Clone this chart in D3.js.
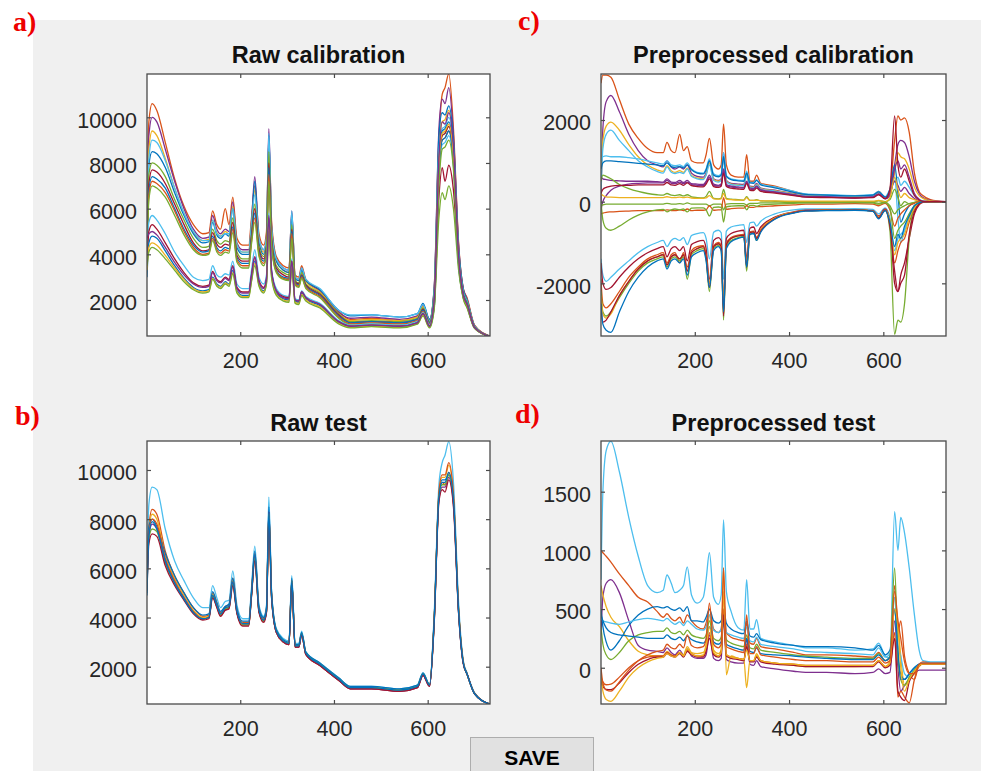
<!DOCTYPE html>
<html>
<head>
<meta charset="utf-8">
<script src="https://cdnjs.cloudflare.com/ajax/libs/d3/7.8.5/d3.min.js"></script>
<style>
  body { margin: 0; background: #fff; }
  svg { display: block; }
</style>
</head>
<body>
<div id="chart"></div>
<script>
// wavelength index of every sampled point (shared by all four panels)
var idx = [1,5,12,22,40, 60,80,100,120,133, 141,150,158,168,176, 184,193,205,218,224, 231,240,250,256,261, 267,277,292,304,310, 317,325,331,340,370, 410,435,480,540,578, 590,604,614,624,631, 637,645,655,666,676, 684,700,733];

var palette = ["#0072BD","#D95319","#EDB120","#7E2F8E","#77AC30","#4DBEEE","#A2142F"];
var xTicks = [200, 400, 600];
var rawYTicks = [2000, 4000, 6000, 8000, 10000];
var preCalYTicks = [-2000, 0, 2000];
var preTestYTicks = [0, 500, 1000, 1500];

// a) raw calibration spectra
var rawCal = [
  [6500,9800,10600,10300,8900, 7300,6100,5300,4900,4950, 5900,5300,5100,6000,5300, 6500,4700,4400,4400,5600, 7000,4900,4400,5000,9000, 5400,3900,3500,3400,5800, 3100,3000,3500,2900,2450, 1500,1150,1200,1100,1300, 1750,1100,2500,9000,11000, 11300,11900,9500,4500,2500, 2100,900,420],
  [5800,9200,10000,9800,8600, 7200,6000,5100,4700,4750, 5700,5100,4900,5100,5000, 6300,4500,4200,4200,5400, 7400,4700,4200,4800,9500, 5200,3800,3400,3300,5900, 3000,2900,3400,2850,2400, 1450,1200,1250,1150,1300, 1800,1150,2600,9500,10800, 10600,11300,9200,4400,2500, 2050,880,420],
  [5200,8600,9400,9200,8200, 6900,5800,4950,4600,4650, 5500,4950,4800,5000,4900, 6100,4400,4100,4100,5300, 6800,4600,4100,4700,8800, 5000,3700,3300,3200,5600, 2950,2850,3300,2800,2350, 1400,1100,1150,1100,1250, 1700,1100,2400,8800,9800, 9900,10300,8800,4200,2400, 2000,850,410],
  [4800,7900,8500,8400,7800, 6700,5700,4900,4500,4550, 5400,4850,4700,4900,4800, 6000,4300,4000,4000,5200, 7200,4500,4000,4600,9200, 5000,3700,3300,3200,5700, 2950,2850,3300,2850,2450, 1550,1300,1350,1250,1400, 1850,1150,2500,9200,10200, 10100,10500,9000,4300,2450, 2000,860,410],
  [4300,8200,9000,8900,8100, 6900,5800,5000,4600,4600, 5500,4900,4800,4900,4900, 6000,4400,4100,4100,5300, 6600,4700,4200,4700,9300, 5100,3800,3400,3300,5900, 3000,2900,3400,2900,2500, 1550,1350,1350,1250,1400, 1800,1100,2300,8500,9500, 9600,10000,8600,4000,2350, 1950,840,400],
  [4500,7500,8000,7900,7400, 6400,5500,4700,4300,4350, 5100,4600,4450,4600,4550, 5600,4100,3800,3800,4900, 6200,4300,3900,4400,8500, 4800,3500,3200,3100,5300, 2850,2750,3200,2700,2300, 1400,1050,1100,1050,1200, 1650,1050,2200,8200,9200, 9300,9600,8300,3900,2300, 1900,820,400],
  [4000,7100,7700,7600,7100, 6200,5300,4500,4150,4200, 4950,4450,4300,4450,4400, 5400,3950,3700,3700,4800, 6000,4200,3800,4300,8000, 4600,3400,3100,3000,5100, 2800,2700,3100,2650,2250, 1350,1000,1050,1000,1150, 1600,1000,1900,6500,7800, 7200,7900,6800,3600,2200, 1800,800,400],
  [3900,6800,7400,7300,6900, 6000,5100,4400,4100,4150, 4800,4300,4150,4300,4250, 5200,3850,3600,3600,4700, 5800,4100,3700,4200,7800, 4500,3300,3000,2950,5000, 2750,2650,3050,2600,2200, 1300,1000,1050,1000,1150, 1550,1000,2000,8000,9400, 9500,9800,8400,3800,2250, 1850,800,400],
  [3700,6600,7200,7100,6700, 5900,5000,4300,4000,4050, 4700,4200,4050,4200,4150, 5100,3750,3500,3500,4550, 5600,4000,3600,4100,7500, 4400,3250,2950,2900,4900, 2700,2600,3000,2550,2150, 1250,950,1000,950,1100, 1500,950,1900,7800,9000, 9100,9400,8100,3700,2200, 1800,790,400],
  [3600,6400,7000,6900,6500, 5700,4850,4200,3950,4000, 4600,4100,3950,4100,4050, 4950,3650,3400,3400,4450, 5400,3900,3500,4000,7200, 4300,3200,2900,2850,4700, 2650,2550,2950,2500,2100, 1200,900,950,900,1050, 1450,900,1700,5600,6700, 6400,7000,6000,3300,2100, 1750,780,400],
  [4200,5400,5700,5500,4900, 4100,3500,3000,2850,2900, 3500,3100,3000,3150,3100, 3700,2700,2500,2500,3300, 4200,3000,2700,3100,5800, 3300,2500,2200,2150,3800, 2050,2000,2400,2150,1850, 1100,900,950,900,1050, 1450,900,1900,7500,8800, 8900,9200,7900,3600,2150, 1750,780,400],
  [3400,5000,5300,5100,4500, 3800,3200,2750,2600,2650, 3250,2900,2800,3000,2900, 3500,2550,2350,2350,3100, 3900,2850,2550,2950,5600, 3200,2400,2150,2100,3700, 2000,1950,2350,2100,1800, 1050,850,900,850,1000, 1400,850,1800,7800,9200, 9300,9600,8200,3700,2150, 1750,780,400],
  [3000,4500,4800,4700,4150, 3500,2950,2550,2400,2450, 3000,2700,2600,2800,2700, 3300,2400,2200,2200,2900, 3700,2700,2400,2800,5400, 3100,2300,2050,2000,3600, 1950,1900,2300,2050,1750, 1000,820,870,820,980, 1350,820,1700,7600,9000, 9100,9400,8000,3600,2100, 1700,770,400],
  [3300,4300,4500,4400,3950, 3400,2900,2500,2350,2400, 2950,2650,2550,2750,2650, 3200,2350,2150,2150,2850, 3600,2650,2350,2750,5200, 3000,2250,2000,1950,3500, 1900,1850,2250,2000,1700, 980,800,850,800,960, 1320,800,1800,7900,9300, 9400,9700,8300,3700,2100, 1700,770,400],
  [3500,4100,4300,4200,3800, 3300,2800,2450,2300,2350, 2900,2600,2500,2700,2600, 3150,2300,2100,2100,2800, 3500,2600,2300,2700,5000, 2950,2200,1950,1900,3400, 1850,1800,2200,1950,1650, 950,780,830,780,940, 1300,780,1600,7000,8600, 8700,9000,7700,3500,2050, 1650,760,400],
  [4700,4900,5000,4850,4300, 3650,3100,2700,2550,2600, 3200,2850,2750,2950,2850, 3450,2500,2300,2300,3050, 3850,2800,2500,2900,5700, 3250,2400,2100,2050,3700, 2000,1950,2350,2100,1800, 1050,850,900,850,1000, 1400,850,2000,8200,9800, 9700,10200,8700,3900,2200, 1800,790,400]
];
var rawCalColors = [1,3,2,0,5,4,6,0,1,4,5,6,0,2,4,3];

// b) raw test spectra
var rawTest = [
  [5600,8600,9300,9200,7600, 6300,5500,4800,4400,4400, 5300,4800,4400,4650,4700, 5900,4500,3950,3950,5200, 6900,4500,4050,4500,8900, 5000,3550,3150,3050,5700, 2950,2950,3450,2600,2150, 1550,1200,1200,1100,1250, 1750,1250,4200,9400,10300, 10600,11150,9500,4600,2250, 1750,950,480],
  [5300,7700,8400,8200,6700, 5700,5000,4400,4050,4100, 5000,4600,4200,4450,4500, 5600,4300,3800,3800,5000, 6600,4350,3950,4350,8300, 4900,3450,3050,2950,5500, 2850,2850,3350,2550,2100, 1500,1150,1150,1050,1200, 1700,1250,4000,8900,9500, 9400,9900,8800,4300,2200, 1700,920,480],
  [5500,7500,8200,8000,6500, 5600,4900,4300,4000,4050, 4950,4550,4150,4400,4450, 5500,4250,3750,3750,4950, 6500,4300,3900,4300,8200, 4850,3400,3000,2900,5450, 2800,2800,3300,2500,2050, 1450,1120,1120,1020,1180, 1680,1230,3900,9000,9700, 9700,10200,8900,4300,2150, 1700,910,480],
  [5000,7700,8000,7700,6600, 5700,5000,4400,4100,4150, 5050,4600,4250,4450,4550, 5600,4350,3850,3850,5050, 6700,4400,4000,4400,8500, 4950,3500,3100,3000,5600, 2900,2900,3400,2600,2150, 1550,1200,1200,1100,1250, 1750,1280,4000,9000,9600, 9600,9800,8700,4200,2150, 1700,910,480],
  [5400,7400,8000,7800,6400, 5500,4800,4250,3950,4000, 4900,4500,4100,4350,4400, 5450,4200,3700,3700,4900, 6400,4250,3850,4250,8100, 4800,3400,3000,2900,5400, 2800,2800,3300,2500,2050, 1450,1100,1100,1000,1150, 1650,1200,3950,9100,9800, 9800,10300,9000,4350,2150, 1700,910,480],
  [5300,7300,7800,7600,6300, 5400,4800,4200,3950,4000, 4850,4450,4100,4300,4400, 5400,4200,3700,3700,4900, 6500,4250,3850,4250,8300, 4800,3400,3000,2900,5500, 2800,2800,3300,2500,2050, 1450,1100,1100,1000,1150, 1650,1200,3850,8800,9300, 9300,9700,8600,4200,2150, 1700,900,480],
  [5200,7200,7600,7500,6200, 5400,4750,4200,3950,4000, 4850,4450,4100,4350,4400, 5350,4200,3700,3700,4900, 6400,4250,3850,4250,8200, 4800,3450,3050,2950,5500, 2850,2850,3350,2550,2100, 1500,1150,1150,1050,1200, 1700,1250,3900,8900,9400, 9400,9800,8700,4250,2150, 1700,900,480],
  [5100,7000,7400,7300,6100, 5300,4700,4150,3900,3950, 4800,4400,4050,4300,4350, 5300,4150,3650,3650,4850, 6300,4200,3800,4200,8000, 4750,3400,3000,2900,5400, 2800,2800,3300,2500,2050, 1450,1100,1100,1000,1150, 1650,1200,3800,8700,9200, 9100,9600,8500,4150,2100, 1700,900,480],
  [4900,7300,7900,7600,6300, 5400,4750,4200,3950,4000, 4900,4500,4150,4400,4450, 5450,4250,3750,3750,4950, 6550,4300,3900,4300,8300, 4850,3450,3050,2950,5500, 2850,2850,3350,2550,2100, 1500,1150,1150,1050,1200, 1700,1250,3900,8900,9500, 9500,9900,8800,4250,2150, 1700,900,480]
];
var rawTestColors = [5,1,2,0,1,3,4,6,0];

// c) preprocessed calibration spectra
var preCal = [
  [2900,3100,3100,3050,2500, 1900,1550,1300,1200,1200, 1450,1250,1200,1650,1250, 1350,1000,950,950,1150, 1550,900,800,900,1900, 900,650,600,600,1150, 500,500,650,450,380, 250,180,150,120,150, 250,100,300,1500,2100, 2000,2050,1700,700,250, 150,50,0],
  [0,1800,2450,2600,2200, 1650,1250,1000,900,850, 1000,850,800,850,800, 900,700,620,600,700, 1000,560,520,560,1200, 520,450,430,420,700, 380,370,450,330,280, 200,160,150,130,150, 230,100,250,900,1400, 1500,1450,1100,500,200, 100,30,0],
  [400,1500,1850,1950,1750, 1400,1100,900,780,740, 880,760,720,760,720, 820,640,580,560,660, 950,540,500,540,1100, 500,430,410,400,660, 360,350,420,320,270, 190,150,140,120,140, 220,90,200,700,1200, 1100,1050,800,350,150, 80,20,0],
  [300,1300,1650,1750,1500, 1250,1000,850,740,700, 850,720,690,720,690, 800,620,560,540,650, 900,520,480,520,1050, 480,420,400,390,640, 350,340,410,310,260, 180,140,130,110,130, 200,80,150,600,-400, -1000,-700,-300,-100,-30, 0,0,0],
  [1000,1100,1120,1100,1100, 1080,1050,1000,950,920, 1000,900,880,900,860, 950,800,720,700,800, 1050,680,640,680,1200, 640,560,530,520,750, 480,470,540,430,360, 250,190,170,150,170, 250,120,300,500,600, 400,500,350,150,60, 20,0,0],
  [800,950,1000,1000,980, 960,940,920,900,880, 950,860,840,860,830, 900,780,700,680,780, 1000,650,610,650,1100, 620,540,510,500,700, 460,450,520,410,340, 230,180,160,140,160, 240,110,300,900,200, -500,-300,-100,-30,0, 0,0,0],
  [600,560,540,520,510, 500,500,500,490,480, 560,480,470,520,470, 520,440,430,420,500, 650,430,400,430,800, 420,380,360,350,500, 330,320,380,290,240, 170,130,120,100,120, 190,80,200,500,400, 250,350,200,80,20, 0,0,0],
  [-200,0,150,280,380, 430,450,460,460,460, 520,450,440,480,440, 480,420,400,390,470, 600,400,380,410,750, 400,360,340,330,480, 310,300,360,280,230, 160,120,110,90,110, 180,70,150,800,1000, 800,900,600,200,60, 0,0,0],
  [500,650,620,560,420, 320,250,200,170,160, 200,160,150,170,140, 170,120,100,90,130, 250,80,70,90,300, 80,60,50,40,120, 30,30,50,20,10, 0,0,0,0,0, 20,0,50,300,100, -100,0,-50,-20,0, 0,0,0],
  [200,150,120,110,100, 100,100,100,100,100, 120,100,100,110,100, 110,90,80,80,90, 150,70,60,70,200, 60,50,40,40,100, 30,30,40,20,20, 10,10,10,10,10, 30,0,100,600,300, 100,200,100,50,10, 0,0,0],
  [-100,-80,-60,-60,-60, -60,-60,-60,-60,-60, -40,-60,-60,-50,-60, -30,-60,-60,-60,-60, -100,-60,-60,-60,-200, -60,-50,-50,-50,-80, -40,-40,-40,-30,-30, -20,-20,-20,-20,-20, -40,-10,-100,-300,-200, -150,-100,-50,-20,0, 0,0,0],
  [-300,-280,-260,-250,-240, -230,-220,-220,-220,-220, -200,-220,-220,-200,-220, -180,-220,-210,-210,-200, -100,-210,-200,-200,100, -190,-170,-160,-160,-100, -140,-140,-120,-120,-100, -80,-60,-60,-50,-60, -100,-40,-200,-600,-400, -300,-200,-100,-40,0, 0,0,0],
  [0,-450,-650,-700,-600, -450,-330,-250,-200,-190, -250,-200,-180,-200,-180, -250,-160,-150,-150,-200, -350,-140,-130,-140,-500, -130,-110,-100,-100,-200, -90,-90,-110,-80,-60, -40,-30,-30,-20,-30, -60,-20,-150,-900,-700, -600,-500,-300,-100,-20, 0,0,0],
  [-1400,-1800,-1950,-1850,-1650, -1450,-1250,-1100,-1000,-950, -1100,-950,-900,-950,-880, -1050,-830,-780,-760,-900, -1400,-750,-700,-760,-1900, -720,-620,-580,-560,-1000, -520,-500,-600,-480,-300, -200,-180,-180,-170,-190, -300,-150,-400,-1200,-900, -800,-700,-400,-150,-50, -10,0,0],
  [-1500,-2000,-2150,-2100,-1850, -1600,-1400,-1250,-1150,-1100, -1350,-1150,-1100,-1200,-1100, -1450,-1050,-980,-950,-1150, -1900,-950,-880,-950,-2600, -900,-780,-720,-700,-1400, -650,-620,-780,-620,-380, -250,-210,-200,-200,-220, -350,-180,-500,-2000,-2200, -1800,-1500,-900,-300,-80, -20,0,0],
  [-1900,-2500,-2600,-2500,-2200, -1850,-1600,-1400,-1300,-1250, -1500,-1300,-1250,-1500,-1250, -1600,-1200,-1100,-1080,-1300, -2000,-1080,-1000,-1080,-2500, -1020,-880,-820,-800,-1500, -740,-720,-880,-680,-400, -260,-220,-210,-200,-230, -380,-200,-500,-1500,-1200, -1000,-900,-500,-200,-50, -10,0,0],
  [-2200,-2700,-2800,-2700,-2350, -2000,-1700,-1500,-1400,-1350, -1600,-1400,-1350,-1450,-1350, -1900,-1300,-1200,-1150,-1400, -2200,-1150,-1070,-1150,-2900, -1100,-950,-880,-850,-1700, -800,-770,-950,-720,-420, -270,-220,-210,-200,-230, -400,-210,-700,-3250,-2900, -2950,-2500,-900,-100,-30, 0,0,0],
  [-2300,-2750,-2850,-2750,-2300, -1950,-1650,-1450,-1350,-1300, -1550,-1350,-1300,-1400,-1300, -1700,-1250,-1150,-1100,-1350, -2000,-1100,-1030,-1100,-2500, -1050,-900,-840,-820,-1500, -760,-740,-900,-700,-400, -260,-220,-210,-200,-230, -380,-200,-450,-1300,-1000, -900,-800,-400,-150,-40, -10,0,0],
  [-2600,-2950,-2900,-2700,-2300, -1950,-1650,-1450,-1350,-1300, -1550,-1350,-1300,-1400,-1300, -1700,-1250,-1150,-1100,-1350, -2100,-1100,-1030,-1100,-2800, -1050,-900,-840,-820,-1600, -760,-740,-900,-720,-420, -270,-220,-210,-200,-230, -400,-200,-600,-1700,-2200, -2000,-1800,-800,-250,-60, -10,0,0],
  [-2500,-3000,-3150,-3200,-2700, -2200,-1850,-1600,-1450,-1400, -1650,-1450,-1400,-1500,-1400, -1800,-1350,-1250,-1200,-1450, -2100,-1200,-1100,-1200,-2700, -1150,-980,-900,-870,-1600, -800,-780,-950,-750,-430, -280,-230,-220,-210,-240, -420,-220,-500,-1100,-800, -900,-600,-350,-100,-30, 0,0,0],
  [200,300,350,380,400, 400,410,410,410,410, 470,410,400,440,400, 460,390,370,360,430, 560,370,350,380,700, 370,330,310,300,450, 280,270,330,250,210, 150,110,100,90,100, 170,70,300,2100,900, 600,800,500,150,40, 10,0,0]
];
var preCalColors = [1,3,2,5,5,0,3,3,4,2,4,1,4,5,6,1,4,2,6,0,6];

// d) preprocessed test spectra
var preTest = [
  [750,1500,1850,1930,1670, 1280,950,700,640,660, 790,720,640,660,700, 860,620,550,600,750, 980,600,540,620,1260, 650,480,340,320,750, 330,330,410,250,220, 190,170,170,150,160, 210,100,80,1330,1000, 1280,1150,850,450,150, 60,50,50],
  [1000,980,950,900,800, 700,600,560,480,430, 460,420,400,430,380, 450,400,350,330,380, 500,330,300,330,600, 300,260,240,230,380, 210,200,250,180,160, 130,110,110,100,90, 130,60,80,700,300, 400,100,-50,-100,30, 50,40,40],
  [300,600,720,750,640, 400,190,150,140,130, 170,130,110,150,110, 160,100,80,80,110, 280,80,60,80,450, 70,50,40,40,250, 30,20,60,10,-10, -30,-40,-40,-50,-40, -10,-50,-40,400,0, -200,-150,-100,-50,-20, -20,-20,-20],
  [700,620,520,430,350, 230,140,110,100,100, 140,110,100,130,110, 180,130,120,130,200, 450,150,120,150,850, -60,100,80,70,-170, 60,60,120,60,40, 20,10,10,10,20, 60,10,50,600,380, 100,-150,-100,-50,10, 30,30,30],
  [500,350,220,150,230, 360,450,500,520,510, 520,500,490,510,480, 520,400,400,390,430, 500,400,380,400,500, 380,330,300,290,400, 270,260,290,240,210, 190,180,180,170,150, 190,110,150,500,100, -50,-100,-50,0,30, 40,40,40],
  [420,400,390,380,370, 390,410,420,410,400, 420,390,370,390,360, 400,370,330,320,350, 450,320,300,330,500, 300,280,260,250,350, 230,220,260,200,180, 160,140,130,120,110, 170,90,120,600,200, 100,-50,-80,0,30, 40,40,40],
  [350,200,110,70,130, 230,280,300,310,310, 340,300,290,310,280, 320,280,260,250,280, 400,250,230,260,450, 240,210,190,180,280, 170,160,200,150,130, 110,100,90,80,80, 120,60,100,850,100, -100,-150,-80,-20,20, 30,30,30],
  [450,400,340,300,280, 270,260,250,250,250, 280,250,240,260,230, 270,240,220,210,240, 350,220,200,220,400, 200,180,160,150,250, 140,130,170,120,110, 100,90,80,70,70, 110,60,90,500,150, -100,-100,-50,0,30, 30,30,30],
  [-80,-120,-145,-140,-80, 0,60,90,100,100, 130,110,100,130,100, 150,120,100,100,150, 300,120,100,130,500, 110,90,80,70,200, 60,60,100,60,40, 30,20,20,20,20, 60,10,30,300,-250, -200,-250,-300,-100,20, 30,30,30],
  [-100,-160,-185,-187,-130, -40,30,70,90,90, 120,100,90,120,90, 140,110,90,90,140, 250,110,90,120,450, 100,80,70,60,180, 50,50,90,50,30, 20,10,10,10,10, 50,0,20,250,-200, -250,-280,-120,-40,20, 30,30,30],
  [-50,-200,-270,-286,-200, -80,0,50,80,90, 120,100,90,130,100, 160,120,100,110,180, 350,130,100,130,650, 110,90,80,70,150, 60,60,110,60,40, 30,20,20,20,20, 60,10,40,500,350, 0,-200,-100,-30,20, 30,30,30],
  [0,-130,-190,-200,-120, -20,60,110,140,150, 200,170,160,200,170, 280,190,170,180,250, 550,200,170,200,850, 180,160,140,130,450, 120,120,180,110,90, 70,60,60,50,50, 90,40,60,650,400, 250,50,-50,-50,30, 40,40,40]
];
var preTestColors = [5,1,3,2,0,5,4,0,1,6,2,1];

var svg = d3.select("#chart")
    .append("svg")
      .attr("width", 981)
      .attr("height", 771);

// figure background
svg.append("rect")
    .attr("x", 0).attr("y", 0)
    .attr("width", 981).attr("height", 771)
    .attr("fill", "#fff");
svg.append("rect")
    .attr("x", 33).attr("y", 20)
    .attr("width", 948).attr("height", 751)
    .attr("fill", "#f0f0f0");

var tickFont = "'Liberation Sans', Arial, Helvetica, sans-serif";
var axisColor = "#4a4a4a";
var plainNum = function(d) { return String(d); };  // 10000, -2000 (no grouping, hyphen minus)

function drawPanel(p, n) {
  var x = d3.scaleLinear().domain([1, 733]).range([p.left, p.left + p.width]);
  var y = d3.scaleLinear().domain(p.yDomain).range([p.top + p.height, p.top]);

  svg.append("rect")
      .attr("x", p.left).attr("y", p.top)
      .attr("width", p.width).attr("height", p.height)
      .attr("fill", "#fff");

  svg.append("defs").append("clipPath")
      .attr("id", "clip" + n)
    .append("rect")
      .attr("x", p.left).attr("y", p.top)
      .attr("width", p.width).attr("height", p.height);

  var line = d3.line()
      .x(function(d, i) { return x(idx[i]); })
      .y(function(d) { return y(d); })
      .curve(d3.curveMonotoneX);

  var g = svg.append("g").attr("clip-path", "url(#clip" + n + ")");
  p.series.forEach(function(s, i) {
    if (s.length !== idx.length) console.error("panel " + n + " series " + i + " has " + s.length);
    g.append("path")
        .datum(s)
        .attr("fill", "none")
        .attr("stroke", palette[p.colors[i]])
        .attr("stroke-width", 1.3)
        .attr("stroke-linejoin", "round")
        .attr("d", line);
  });

  var bottom = svg.append("g")
      .attr("transform", "translate(0," + (p.top + p.height) + ")")
      .call(d3.axisBottom(x).tickValues(xTicks).tickFormat(plainNum).tickSize(-4).tickSizeOuter(0).tickPadding(17));
  var left = svg.append("g")
      .attr("transform", "translate(" + p.left + ",0)")
      .call(d3.axisLeft(y).tickValues(p.yTicks).tickFormat(plainNum).tickSize(-4).tickSizeOuter(0).tickPadding(10));
  var top = svg.append("g")
      .attr("transform", "translate(0," + p.top + ")")
      .call(d3.axisTop(x).tickValues(xTicks).tickSize(-4).tickSizeOuter(0).tickFormat(""));
  var right = svg.append("g")
      .attr("transform", "translate(" + (p.left + p.width) + ",0)")
      .call(d3.axisRight(y).tickValues(p.yTicks).tickSize(-4).tickSizeOuter(0).tickFormat(""));

  [bottom, left, top, right].forEach(function(a) {
    a.select(".domain").remove();
    a.selectAll(".tick line").attr("stroke", axisColor).attr("stroke-width", 1.2);
    a.selectAll(".tick text")
        .attr("fill", "#262626")
        .attr("font-family", tickFont)
        .attr("font-size", "21.5px");
  });
  left.selectAll(".tick text").attr("dy", "0.46em");

  svg.append("rect")
      .attr("x", p.left).attr("y", p.top)
      .attr("width", p.width).attr("height", p.height)
      .attr("fill", "none")
      .attr("stroke", axisColor)
      .attr("stroke-width", 1.3);

  svg.append("text")
      .attr("x", p.left + p.width / 2)
      .attr("y", p.titleY)
      .attr("text-anchor", "middle")
      .attr("font-family", tickFont)
      .attr("font-weight", "bold")
      .attr("font-size", "23.5px")
      .attr("fill", "#111")
      .text(p.title);

  svg.append("text")
      .attr("x", p.labelX)
      .attr("y", p.labelY)
      .attr("font-family", "'Liberation Serif', 'Times New Roman', serif")
      .attr("font-weight", "bold")
      .attr("font-size", "28px")
      .attr("fill", "#ee0000")
      .text(p.label);
}

var panels = [
  {left: 147, top: 74, width: 343, height: 262, yDomain: [423, 11896], yTicks: rawYTicks,
   series: rawCal, colors: rawCalColors, title: "Raw calibration", titleY: 63, label: "a)", labelX: 13, labelY: 31},
  {left: 601, top: 74, width: 345, height: 262, yDomain: [-3290, 3127], yTicks: preCalYTicks,
   series: preCal, colors: preCalColors, title: "Preprocessed calibration", titleY: 63, label: "c)", labelX: 518, labelY: 30},
  {left: 147, top: 441, width: 343, height: 263, yDomain: [483, 11179], yTicks: rawYTicks,
   series: rawTest, colors: rawTestColors, title: "Raw test", titleY: 431, label: "b)", labelX: 15, labelY: 425},
  {left: 601, top: 441, width: 345, height: 263, yDomain: [-309, 1932], yTicks: preTestYTicks,
   series: preTest, colors: preTestColors, title: "Preprocessed test", titleY: 431, label: "d)", labelX: 515, labelY: 423}
];

panels.forEach(function(p, n) { drawPanel(p, n); });

// SAVE button
svg.append("rect")
    .attr("x", 470.5).attr("y", 737.5)
    .attr("width", 123).attr("height", 40)
    .attr("fill", "#e1e1e1")
    .attr("stroke", "#adadad");
svg.append("text")
    .attr("x", 532).attr("y", 765)
    .attr("text-anchor", "middle")
    .attr("font-family", tickFont)
    .attr("font-weight", "bold")
    .attr("font-size", "21px")
    .attr("fill", "#000")
    .text("SAVE");
</script>
</body>
</html>
